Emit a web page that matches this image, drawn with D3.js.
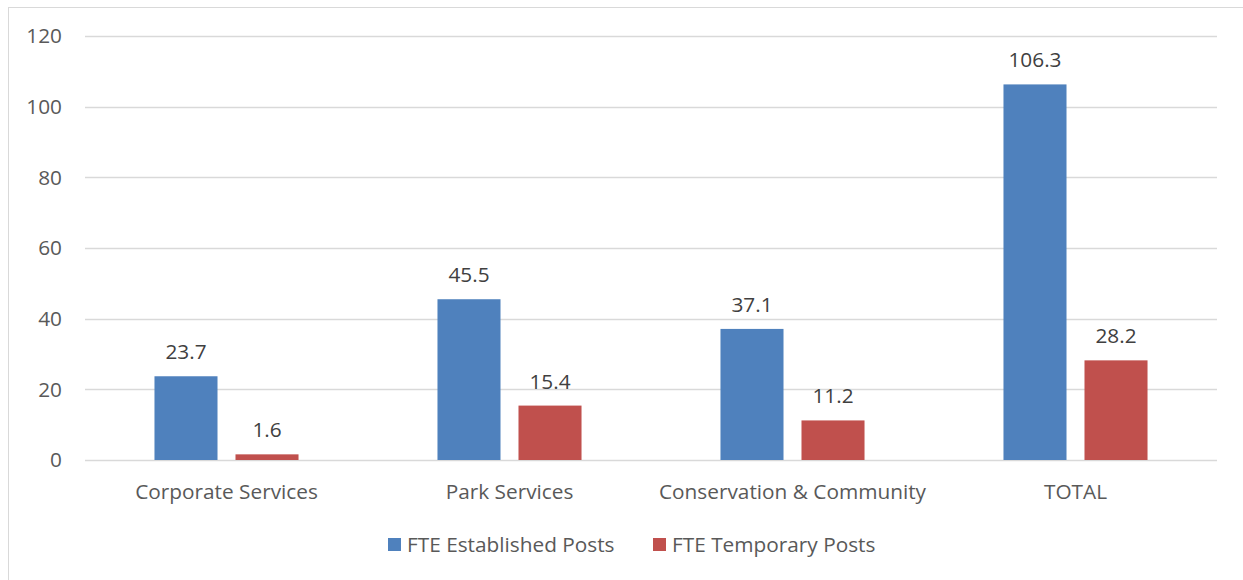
<!DOCTYPE html>
<html>
<head>
<meta charset="utf-8">
<script src="https://cdn.jsdelivr.net/npm/d3@7"></script>
<style>
  body { margin: 0; background: #fff; }
  text { font-family: "Open Sans", sans-serif; }
</style>
</head>
<body>
<svg id="chart" width="1243" height="580"></svg>
<script>
const categories = ['Corporate Services', 'Park Services', 'Conservation & Community', 'TOTAL'];
const seriesNames = ['FTE Established Posts', 'FTE Temporary Posts'];
const established = [23.7, 45.5, 37.1, 106.3];
const temporary = [1.6, 15.4, 11.2, 28.2];
const yTicks = [0, 20, 40, 60, 80, 100, 120];
const colors = ['#4F81BD', '#C0504D'];

const svg = d3.select('#chart');
const plot = { left: 85, right: 1217, top: 36, bottom: 460 };
const fontSize = 20.8;

// chart frame
svg.append('rect')
  .attr('x', 8.5).attr('y', 7.5)
  .attr('width', 1250).attr('height', 600)
  .attr('fill', 'none')
  .attr('stroke', '#D9D9D9');

const y = d3.scaleLinear().domain([0, 120]).range([plot.bottom, plot.top]);

const x0 = d3.scaleBand()
  .domain(categories)
  .range([plot.left, plot.right])
  .paddingInner(0.491)
  .paddingOuter(0.2455);

const x1 = d3.scaleBand()
  .domain(seriesNames)
  .range([0, x0.bandwidth()])
  .paddingInner(0.222);

// gridlines
svg.append('g')
  .selectAll('line')
  .data(yTicks)
  .enter().append('line')
  .attr('x1', plot.left).attr('x2', plot.right)
  .attr('y1', d => Math.round(y(d)) + 0.5)
  .attr('y2', d => Math.round(y(d)) + 0.5)
  .attr('stroke', '#D9D9D9')
  .attr('stroke-width', 1.3);

// y tick labels
svg.append('g')
  .selectAll('text')
  .data(yTicks)
  .enter().append('text')
  .attr('x', 62)
  .attr('y', d => y(d))
  .attr('dy', '0.35em')
  .attr('text-anchor', 'end')
  .attr('font-size', fontSize)
  .attr('fill', '#595959')
  .text(d => d);

const rows = categories.map((c, i) => ({ cat: c, values: [established[i], temporary[i]] }));

const groups = svg.append('g')
  .selectAll('g')
  .data(rows)
  .enter().append('g')
  .attr('transform', d => `translate(${x0(d.cat)},0)`);

groups.selectAll('rect')
  .data(d => d.values.map((v, j) => ({ name: seriesNames[j], value: v, idx: j })))
  .enter().append('rect')
  .attr('x', d => x1(d.name))
  .attr('y', d => y(d.value))
  .attr('width', x1.bandwidth())
  .attr('height', d => y(0) - y(d.value))
  .attr('fill', d => colors[d.idx]);

groups.selectAll('text')
  .data(d => d.values.map((v, j) => ({ name: seriesNames[j], value: v })))
  .enter().append('text')
  .attr('x', d => x1(d.name) + x1.bandwidth() / 2)
  .attr('y', d => y(d.value) - 17)
  .attr('text-anchor', 'middle')
  .attr('font-size', fontSize)
  .attr('fill', '#404040')
  .text(d => d.value.toFixed(1));

// category labels
svg.append('g')
  .selectAll('text')
  .data(categories)
  .enter().append('text')
  .attr('x', d => x0(d) + x0.bandwidth() / 2)
  .attr('y', plot.bottom + 39)
  .attr('text-anchor', 'middle')
  .attr('font-size', fontSize)
  .attr('fill', '#595959')
  .text(d => d);

// legend
const legendX = [388, 653];
const legend = svg.append('g')
  .selectAll('g')
  .data(seriesNames)
  .enter().append('g')
  .attr('transform', (d, i) => `translate(${legendX[i]},538)`);

legend.append('rect')
  .attr('width', 13).attr('height', 13)
  .attr('fill', (d, i) => colors[i]);

legend.append('text')
  .attr('x', 19)
  .attr('y', 7)
  .attr('dy', '0.35em')
  .attr('font-size', fontSize)
  .attr('fill', '#595959')
  .text(d => d);
</script>
</body>
</html>
